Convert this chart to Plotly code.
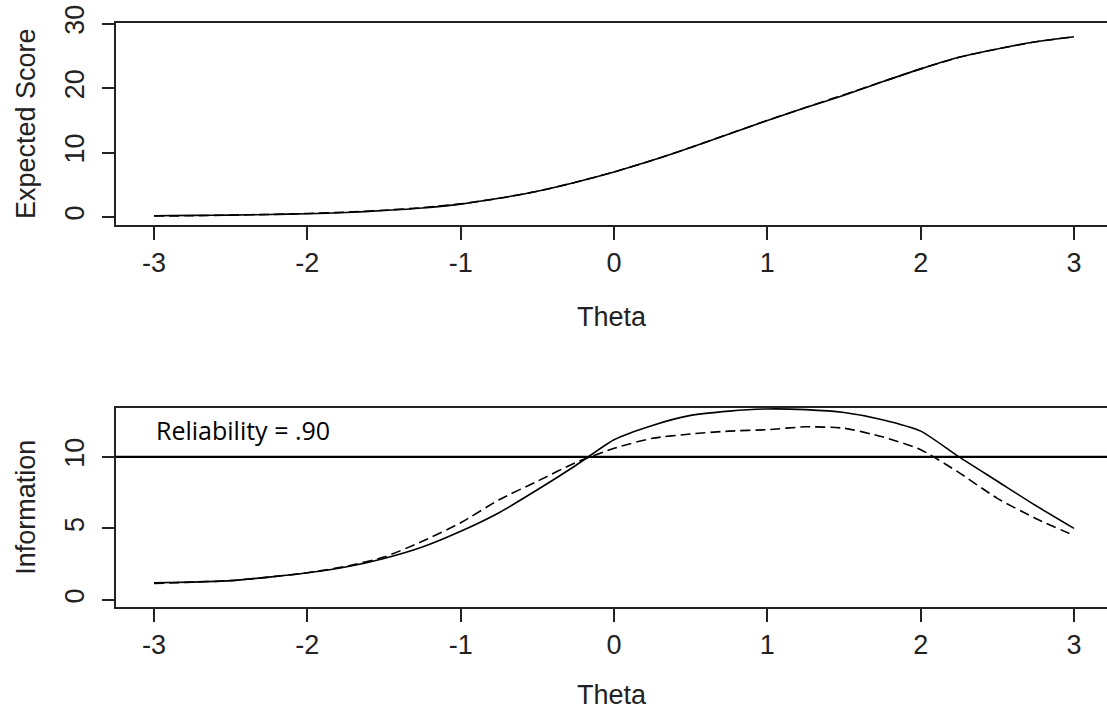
import plotly.graph_objects as go

# ---------------- data ----------------
theta = [-3.0, -2.75, -2.5, -2.25, -2.0, -1.75, -1.5, -1.25, -1.0, -0.75, -0.5, -0.25,
         0.0, 0.25, 0.5, 0.75, 1.0, 1.25, 1.5, 1.75, 2.0, 2.25, 2.5, 2.75, 3.0]

score_solid = [0.2, 0.25, 0.3, 0.4, 0.5, 0.7, 1.0, 1.4, 2.0, 2.9, 4.0, 5.4,
               7.0, 8.8, 10.8, 12.9, 15.0, 17.0, 18.9, 21.0, 23.0, 24.8, 26.1, 27.2, 28.0]
score_dashed = [0.15, 0.2, 0.3, 0.4, 0.55, 0.75, 1.05, 1.45, 2.05, 2.9, 4.0, 5.4,
                7.0, 8.8, 10.8, 12.9, 15.0, 17.0, 19.0, 21.0, 23.0, 24.8, 26.1, 27.2, 28.0]

info_solid = [1.2, 1.25, 1.35, 1.6, 1.9, 2.3, 2.9, 3.7, 4.8, 6.1, 7.7, 9.4,
              11.2, 12.2, 12.9, 13.2, 13.35, 13.3, 13.1, 12.6, 11.8, 10.0, 8.3, 6.6, 5.0]
info_dashed = [1.15, 1.25, 1.35, 1.6, 1.9, 2.35, 3.0, 4.1, 5.4, 7.0, 8.3, 9.6,
               10.6, 11.3, 11.6, 11.8, 11.9, 12.1, 12.0, 11.4, 10.5, 8.9, 7.1, 5.7, 4.5]

reliability_info = 10
reliability_label = "Reliability = .90"

theta_ticks = [-3, -2, -1, 0, 1, 2, 3]
score_ticks = [0, 10, 20, 30]
info_ticks = [0, 5, 10]

# ---------------- styling ----------------
W, H = 1107, 719
AX = "#222222"
FONT = "Liberation Sans, Arial, sans-serif"
TFS = 27


def ydom(top_px, bottom_px):
    return [1 - bottom_px / H, 1 - top_px / H]


fig = go.Figure()

solid = dict(color="black", width=1.6, shape="spline", smoothing=0.6)
dashed = dict(color="black", width=1.6, dash="10px,5px", shape="spline", smoothing=0.6)

fig.add_trace(go.Scatter(x=theta, y=score_dashed, mode="lines", line=dashed,
                         xaxis="x", yaxis="y", showlegend=False))
fig.add_trace(go.Scatter(x=theta, y=score_solid, mode="lines", line=solid,
                         xaxis="x", yaxis="y", showlegend=False))
fig.add_trace(go.Scatter(x=theta, y=info_dashed, mode="lines", line=dashed,
                         xaxis="x2", yaxis="y2", showlegend=False))
fig.add_trace(go.Scatter(x=theta, y=info_solid, mode="lines", line=solid,
                         xaxis="x2", yaxis="y2", showlegend=False))

fig.add_shape(type="line", xref="x2 domain", x0=0, x1=1, yref="y2",
              y0=reliability_info, y1=reliability_info,
              line=dict(color="black", width=2.2))

fig.add_annotation(text=reliability_label, xref="x2", yref="y2", x=-2.42, y=11.85,
                   showarrow=False, xanchor="center", yanchor="middle",
                   font=dict(family="Open Sans, sans-serif", size=25, color="black"))

xcommon = dict(range=[-3.248, 3.215], tickvals=theta_ticks,
               ticktext=[str(t) for t in theta_ticks],
               showline=True, linecolor=AX, linewidth=1.6, mirror=True,
               ticks="outside", ticklen=13, tickwidth=1.6, tickcolor=AX,
               showgrid=False, zeroline=False, automargin=False,
               tickfont=dict(family=FONT, size=TFS, color=AX),
               domain=[0, 1])
ycommon = dict(showline=True, linecolor=AX, linewidth=1.6, mirror=False,
               ticks="outside", ticklen=12, tickwidth=1.6, tickcolor=AX,
               showgrid=False, zeroline=False, tickangle=-90, automargin=False,
               ticklabelstandoff=7,
               tickfont=dict(family=FONT, size=TFS, color=AX))

fig.update_layout(
    width=W, height=H,
    margin=dict(l=116, r=0, t=0, b=0),
    paper_bgcolor="white", plot_bgcolor="white",
    xaxis=dict(**xcommon, anchor="y",
               title=dict(text="Theta", font=dict(family=FONT, size=TFS, color=AX), standoff=30)),
    yaxis=dict(**ycommon, range=[-1.24, 30.2], tickvals=score_ticks,
               ticktext=[str(t) for t in score_ticks],
               domain=ydom(22.5, 225), anchor="x",
               title=dict(text="Expected Score", font=dict(family=FONT, size=TFS, color=AX), standoff=17)),
    xaxis2=dict(**xcommon, anchor="y2",
                title=dict(text="Theta", font=dict(family=FONT, size=TFS, color=AX), standoff=26)),
    yaxis2=dict(**ycommon, range=[-0.49, 13.45], tickvals=info_ticks,
                ticktext=[str(t) for t in info_ticks],
                domain=ydom(407.5, 607), anchor="x2",
                title=dict(text="Information", font=dict(family=FONT, size=TFS, color=AX), standoff=17)),
)

fig.write_html("out.html")
